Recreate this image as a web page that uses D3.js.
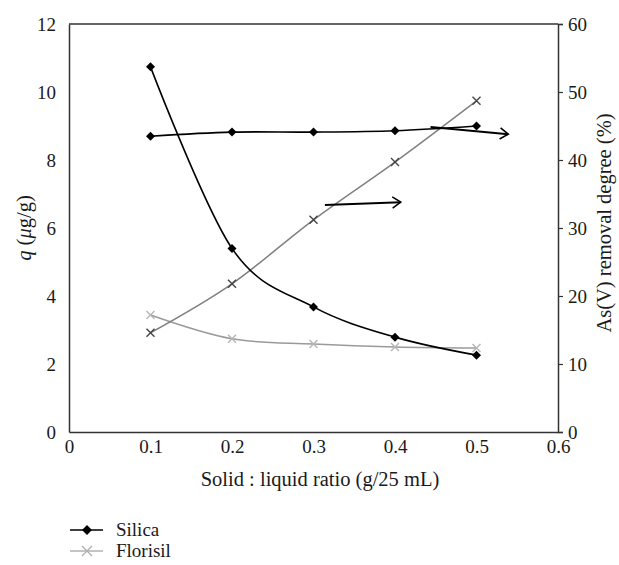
<!DOCTYPE html>
<html><head><meta charset="utf-8">
<script src="https://cdn.jsdelivr.net/npm/d3@7"></script>
<style>body{margin:0;background:#fff}svg{display:block}svg text{font-family:'Liberation Serif','DejaVu Serif',serif !important}</style>
</head><body>
<script>
const ratios = [0.1, 0.2, 0.3, 0.4, 0.5];
const silicaQ = [10.74, 5.4, 3.68, 2.79, 2.26];
const silicaRemoval = [43.5, 44.1, 44.1, 44.3, 45.0];
const florisilQ = [3.44, 2.74, 2.59, 2.5, 2.47];
const florisilRemoval = [14.6, 21.8, 31.2, 39.7, 48.7];
const xTicks = [0, 0.1, 0.2, 0.3, 0.4, 0.5, 0.6];
const leftTicks = [0, 2, 4, 6, 8, 10, 12];
const rightTicks = [0, 10, 20, 30, 40, 50, 60];
const arrows = [
  {x1: 0.314, y1: 33.4, x2: 0.407, y2: 33.8},
  {x1: 0.4436, y1: 44.85, x2: 0.539, y2: 43.8}
];
const legendItems = ["Silica", "Florisil"];

const FONT = "'Liberation Serif', 'DejaVu Serif', serif";
const W = 619, H = 565;
const L = 69, R = 558, T = 24, B = 432;
const svg = d3.select("body").append("svg").attr("width", W).attr("height", H)
  .style("font-family", FONT);
const x = d3.scaleLinear().domain([0, 0.6]).range([L, R]);
const yL = d3.scaleLinear().domain([0, 12]).range([B, T]);
const yR = d3.scaleLinear().domain([0, 60]).range([B, T]);

const axisColor = "#333";
svg.append("line").attr("x1", L).attr("x2", R).attr("y1", T).attr("y2", T).attr("stroke", axisColor).attr("stroke-width", 1.5);

const gx = svg.append("g").attr("transform", `translate(0,${B})`)
  .call(d3.axisBottom(x).tickValues(xTicks).tickSize(0).tickPadding(8).tickFormat(d => d === 0 ? "0" : d3.format(".1f")(d)));
const gl = svg.append("g").attr("transform", `translate(${L},0)`)
  .call(d3.axisLeft(yL).tickValues(leftTicks).tickSize(0).tickPadding(13).tickFormat(d3.format("d")));
const gr = svg.append("g").attr("transform", `translate(${R},0)`)
  .call(d3.axisRight(yR).tickValues(rightTicks).tickSize(5).tickPadding(5).tickFormat(d3.format("d")));
[gx, gl, gr].forEach(g => {
  g.attr("font-family", null).attr("font-size", 19);
  g.select(".domain").attr("stroke", axisColor).attr("stroke-width", 1.5);
  g.selectAll(".tick line").attr("stroke", axisColor).attr("stroke-width", 1.2);
  g.selectAll("text").attr("fill", "#1a1a1a");
});

const curve = d3.curveCardinal.tension(0);
function series(vals, yScale, color, width) {
  const line = d3.line().x((d, i) => x(ratios[i])).y(d => yScale(d)).curve(curve);
  svg.append("path").datum(vals).attr("d", line).attr("fill", "none").attr("stroke", color).attr("stroke-width", width);
}
function diamonds(vals, yScale) {
  svg.append("g").selectAll("path").data(vals).join("path")
    .attr("transform", (d, i) => `translate(${x(ratios[i])},${yScale(d)})`)
    .attr("d", "M0,-4.5L4.5,0L0,4.5L-4.5,0Z").attr("fill", "#000");
}
function crosses(vals, yScale, color) {
  svg.append("g").selectAll("path").data(vals).join("path")
    .attr("transform", (d, i) => `translate(${x(ratios[i])},${yScale(d)})`)
    .attr("d", "M-4,-4L4,4M-4,4L4,-4").attr("stroke", color).attr("stroke-width", 1.4).attr("fill", "none");
}

series(florisilQ, yL, "#9a9a9a", 1.5);
crosses(florisilQ, yL, "#b5b5b5");
series(florisilRemoval, yR, "#808080", 1.5);
crosses(florisilRemoval, yR, "#444");
series(silicaQ, yL, "#000", 1.6);
diamonds(silicaQ, yL);
series(silicaRemoval, yR, "#000", 1.6);
diamonds(silicaRemoval, yR);

arrows.forEach(a => {
  const X1 = x(a.x1), Y1 = yR(a.y1), X2 = x(a.x2), Y2 = yR(a.y2);
  const ang = Math.atan2(Y2 - Y1, X2 - X1);
  const len = 10, spread = 0.6;
  svg.append("line").attr("x1", X1).attr("y1", Y1).attr("x2", X2).attr("y2", Y2).attr("stroke", "#000").attr("stroke-width", 2);
  const p1 = [X2 - len * Math.cos(ang - spread), Y2 - len * Math.sin(ang - spread)];
  const p2 = [X2 - len * Math.cos(ang + spread), Y2 - len * Math.sin(ang + spread)];
  svg.append("path").attr("d", `M${p1}L${X2},${Y2}L${p2}`).attr("fill", "none").attr("stroke", "#000").attr("stroke-width", 1.6);
});

svg.append("text").attr("x", 320).attr("y", 486).attr("text-anchor", "middle").attr("font-size", 20.5).attr("fill", "#1a1a1a")
  .text("Solid : liquid ratio (g/25 mL)");
const lt = svg.append("text").attr("transform", `translate(31,228) rotate(-90)`).attr("text-anchor", "middle").attr("font-size", 20.5).attr("fill", "#1a1a1a");
lt.append("tspan").attr("font-style", "italic").text("q");
lt.append("tspan").text(" (");
lt.append("tspan").attr("font-style", "italic").text("μ");
lt.append("tspan").text("g/g)");
svg.append("text").attr("transform", `translate(611,223) rotate(-90)`).attr("text-anchor", "middle").attr("font-size", 20.5).attr("fill", "#1a1a1a")
  .text("As(V) removal degree (%)");

const lg = svg.append("g");
legendItems.forEach((name, i) => {
  const cy = 530 + i * 21;
  const col = i === 0 ? "#000" : "#b0b0b0";
  lg.append("line").attr("x1", 70).attr("x2", 103).attr("y1", cy).attr("y2", cy).attr("stroke", col).attr("stroke-width", 1.5);
  if (i === 0) lg.append("path").attr("transform", `translate(87,${cy})`).attr("d", "M0,-5L5,0L0,5L-5,0Z").attr("fill", "#000");
  else lg.append("path").attr("transform", `translate(87,${cy})`).attr("d", "M-5,-5L5,5M-5,5L5,-5").attr("stroke", col).attr("stroke-width", 1.3);
  lg.append("text").attr("x", 116).attr("y", cy + 6).attr("font-size", 19).attr("fill", "#1a1a1a").text(name);
});
</script>
</body></html>
